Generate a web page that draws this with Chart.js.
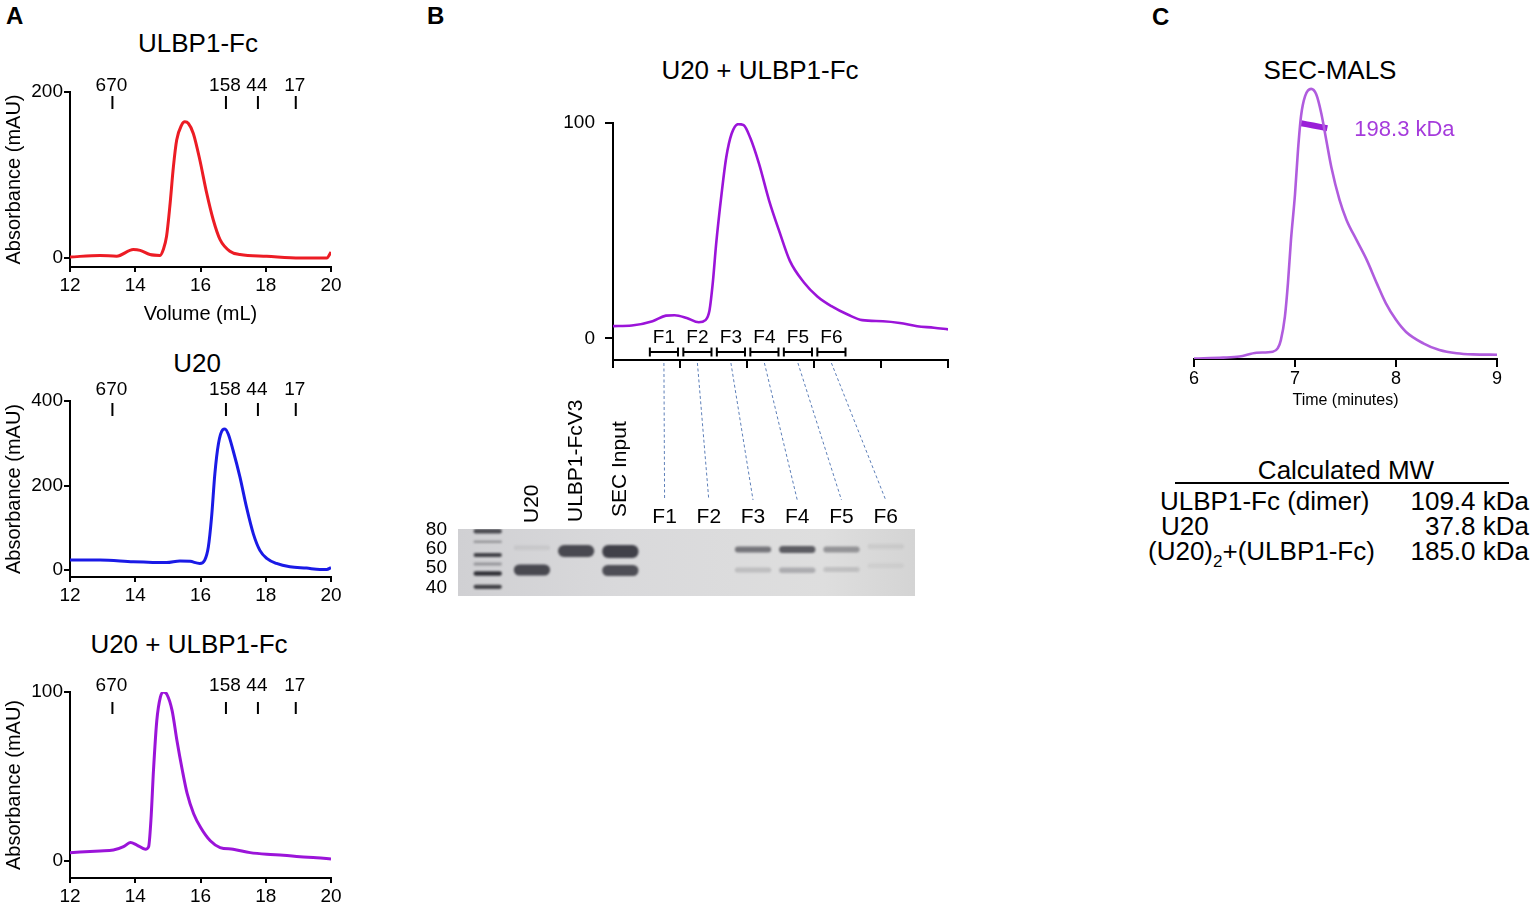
<!DOCTYPE html>
<html>
<head>
<meta charset="utf-8">
<title>U20 / ULBP1-Fc size exclusion</title>
<script src="https://cdn.jsdelivr.net/npm/chart.js@4.4.1/dist/chart.umd.min.js"></script>
<style>
  html, body { margin: 0; padding: 0; background: #fff; }
  body { width: 1535px; height: 905px; position: relative; overflow: hidden;
         font-family: "Liberation Sans", Arial, sans-serif; color: #000; }
  canvas { position: absolute; display: block; }
  .panel { position: absolute; font-weight: bold; font-size: 24px; line-height: 24px; }
  .title { position: absolute; width: 400px; text-align: center; font-size: 26px; line-height: 26px; white-space: nowrap; }
  .cell { position: absolute; font-size: 26px; line-height: 26px; white-space: nowrap; }
  .num { text-align: right; width: 160px; }
</style>
</head>
<body>

<div class="panel" style="left:6px; top:4px;">A</div>
<div class="panel" style="left:427px; top:4px;">B</div>
<div class="panel" style="left:1152px; top:5px;">C</div>

<div class="title" style="left:-2px; top:30px;">ULBP1-Fc</div>
<div class="title" style="left:-3px; top:350px;">U20</div>
<div class="title" style="left:-11px; top:631px;">U20 + ULBP1-Fc</div>
<div class="title" style="left:560px; top:57px;">U20 + ULBP1-Fc</div>
<div class="title" style="left:1130px; top:57px;">SEC-MALS</div>

<canvas id="chartUlbp" width="345" height="270" style="left:0; top:60px;"></canvas>
<canvas id="chartU20" width="345" height="237" style="left:0; top:370px;"></canvas>
<canvas id="chartComplex" width="345" height="245" style="left:0; top:660px;"></canvas>
<canvas id="chartFractions" width="420" height="282" style="left:540px; top:100px;"></canvas>
<canvas id="chartGel" width="530" height="271" style="left:400px; top:355px;"></canvas>
<canvas id="chartMals" width="333" height="344" style="left:1180px; top:70px;"></canvas>

<!-- Calculated MW table -->
<div class="cell" style="left:1146px; top:457px; width:400px; text-align:center;">Calculated MW</div>
<div style="position:absolute; left:1175px; top:482px; width:334px; height:2px; background:#000;"></div>
<div class="cell" style="left:1160px; top:488px;">ULBP1-Fc (dimer)</div>
<div class="cell num" style="left:1369px; top:488px;">109.4 kDa</div>
<div class="cell" style="left:1161px; top:513px;">U20</div>
<div class="cell num" style="left:1369px; top:513px;">37.8 kDa</div>
<div class="cell" style="left:1148px; top:538px;">(U20)<span style="font-size:17px; position:relative; top:7px;">2</span>+(ULBP1-Fc)</div>
<div class="cell num" style="left:1369px; top:538px;">185.0 kDa</div>

<script>
// ---------- data ----------
// A: ULBP1-Fc alone
const ulbpVolume = [12.0, 12.92, 13.43, 13.94, 14.15, 14.45, 14.76, 14.86, 14.96, 15.06, 15.17, 15.27, 15.42, 15.52, 15.63, 15.78, 15.98, 16.19, 16.39, 16.6, 16.9, 17.21, 18.03, 19.05, 19.87, 20.0];
const ulbpAbs = [1, 3, 2, 10, 9, 4, 3, 10, 26, 62, 110, 142, 160, 164, 162, 150, 118, 78, 46, 22, 8, 4, 2, 0, 0, 7];

// A: U20 alone
const u20Volume = [12.0, 12.92, 13.94, 14.96, 15.37, 15.68, 15.98, 16.13, 16.24, 16.34, 16.44, 16.55, 16.68, 16.75, 16.85, 17.0, 17.21, 17.41, 17.62, 17.82, 18.03, 18.33, 18.74, 19.25, 19.66, 19.87, 20.0];
const u20Abs = [24, 24, 20, 18, 22, 21, 16, 24, 55, 126, 228, 299, 332, 334, 322, 283, 220, 149, 86, 47, 28, 16, 8, 5, 2, 2, 6];

// A: U20 + ULBP1-Fc
const complexVolume = [12.0, 12.92, 13.33, 13.64, 13.85, 14.05, 14.31, 14.41, 14.48, 14.56, 14.66, 14.77, 14.87, 14.97, 15.13, 15.28, 15.44, 15.59, 15.79, 16.0, 16.3, 16.6, 17.0, 17.52, 18.03, 18.54, 19.05, 19.56, 20.0];
const complexAbs = [5, 6, 6.5, 8.5, 11, 9.5, 7, 8.5, 24, 54, 83, 97, 100, 98.6, 89, 71, 54, 40, 28, 20, 12, 8, 7, 5, 4, 3.5, 2.6, 2, 1.2];

// gel filtration standards (kDa) and where they elute
const standardVolume = [13.3, 16.78, 17.76, 18.92];
const standardLabels = ['670', '158', '44', '17'];

// B: preparative run with fractions
const fracVolume = [13.0, 13.28, 13.59, 13.79, 13.92, 14.1, 14.28, 14.38, 14.44, 14.49, 14.54, 14.62, 14.69, 14.77, 14.87, 14.95, 15.05, 15.18, 15.33, 15.49, 15.64, 15.85, 16.05, 16.26, 16.51, 16.72, 17.03, 17.28, 17.54, 17.79, 18.0];
const fracAbs = [5.7, 6, 8, 10.6, 10.8, 9.5, 7.5, 8.5, 13, 26, 44, 67, 84, 95, 99.5, 99, 93, 81, 64, 49, 36, 26, 19.5, 15, 11, 8.5, 8, 7.2, 5.7, 5, 4.2];
const fractionLabels = ['F1', 'F2', 'F3', 'F4', 'F5', 'F6'];
const fractionStart = [13.55, 14.05, 14.55, 15.05, 15.55, 16.05];
const fractionEnd = [13.97, 14.47, 14.97, 15.47, 15.97, 16.47];

// B: SDS-PAGE gel (migration from top of gel, arbitrary units)
const gelLanes = ['Ladder', 'U20', 'ULBP1-FcV3', 'SEC Input', 'F1', 'F2', 'F3', 'F4', 'F5', 'F6'];
const ladderKda = ['80', '60', '50', '40'];
const ladderKdaMigration = [1, 20, 39, 59];
const ladderBandTop = [0, 11.5, 24, 33.5, 42.3, 55.7];
const ladderBandBottom = [4.5, 14, 28, 36.5, 46.8, 60];
const ladderBandIntensity = [0.8, 0.35, 0.85, 0.35, 0.95, 0.85];
const bandLane = ['U20', 'U20', 'ULBP1-FcV3', 'SEC Input', 'SEC Input', 'F3', 'F3', 'F4', 'F4', 'F5', 'F5', 'F6', 'F6'];
const bandTop = [16.5, 35.5, 16, 16, 36, 17.5, 38.5, 17, 38.5, 17.5, 38, 15, 34.5];
const bandBottom = [21, 46.5, 28, 29, 47, 23.5, 43.5, 24, 44, 23.5, 43, 20, 39];
const bandIntensity = [0.08, 0.85, 0.85, 0.9, 0.82, 0.6, 0.18, 0.75, 0.28, 0.42, 0.16, 0.08, 0.06];

// C: SEC-MALS
const malsTime = [6.0, 6.29, 6.45, 6.62, 6.78, 6.83, 6.86, 6.9, 6.93, 6.96, 7.0, 7.03, 7.06, 7.1, 7.16, 7.21, 7.26, 7.31, 7.36, 7.44, 7.51, 7.61, 7.71, 7.81, 7.9, 8.0, 8.1, 8.27, 8.43, 8.6, 8.76, 9.0];
const malsSignal = [0.2, 0.5, 0.9, 2.3, 2.7, 4, 7, 15.7, 28, 44, 61, 77.5, 90, 97.3, 100, 98, 91, 81, 71, 59, 51.5, 44, 36.7, 28, 20.6, 14.5, 10, 5.8, 3.3, 2.1, 1.7, 1.6];
const mwTime = [7.06, 7.12, 7.18, 7.25, 7.32];
const mwKda = [200.2, 199.3, 198.3, 197.2, 196.0];
const mwLabel = '198.3 kDa';

// ---------- shared styling ----------
const FONT = '"Liberation Sans", Arial, sans-serif';
Chart.defaults.font.family = FONT;
Chart.defaults.color = '#000';

const axisBorder = { display: true, color: '#000', width: 2 };
function tickGrid(len) {
    return { display: true, drawOnChartArea: false, drawTicks: true, tickLength: len, color: '#000', lineWidth: 2 };
}
function toPoints(xs, ys) {
    return xs.map((v, i) => ({ x: v, y: ys[i] }));
}

// marker ticks + labels for the standards above each trace
const standardsPlugin = {
    id: 'standards',
    afterDraw(chart, args, opts) {
        const { ctx, chartArea, scales: { x } } = chart;
        ctx.save();
        ctx.font = '19px ' + FONT;
        ctx.textAlign = 'center';
        ctx.textBaseline = 'middle';
        ctx.fillStyle = '#000';
        ctx.strokeStyle = '#000';
        ctx.lineWidth = 2;
        standardVolume.forEach((v, i) => {
            const px = x.getPixelForValue(v);
            ctx.fillText(standardLabels[i], px - 1, chartArea.top + opts.labelY);
            ctx.beginPath();
            ctx.moveTo(px, chartArea.top + opts.tickFrom);
            ctx.lineTo(px, chartArea.top + opts.tickTo);
            ctx.stroke();
        });
        ctx.restore();
    }
};

function secChart(id, volume, absorbance, color, yRange, yTicks, standards, xTitle, xHeight, padTop) {
    return new Chart(document.getElementById(id), {
        type: 'line',
        data: {
            datasets: [{
                data: toPoints(volume, absorbance),
                borderColor: color,
                borderWidth: 3,
                pointRadius: 0,
                cubicInterpolationMode: 'monotone',
                fill: false
            }]
        },
        options: {
            responsive: false,
            animation: false,
            layout: { padding: { top: padTop, right: 14, left: 0, bottom: 0 } },
            plugins: { legend: { display: false }, tooltip: { enabled: false }, standards: standards },
            scales: {
                x: {
                    type: 'linear', min: 12, max: 20,
                    ticks: { stepSize: 2, font: { size: 19 }, padding: 2, maxRotation: 0, autoSkip: false },
                    grid: tickGrid(5),
                    border: axisBorder,
                    title: xTitle ? { display: true, text: xTitle, font: { size: 20 }, padding: { top: 0, bottom: 4 } } : { display: false },
                    afterFit: s => { s.height = xHeight; }
                },
                y: {
                    min: yRange[0], max: yRange[1],
                    afterBuildTicks: s => { s.ticks = yTicks.map(v => ({ value: v })); },
                    ticks: { font: { size: 19 }, padding: 1, autoSkip: false },
                    grid: tickGrid(6),
                    border: axisBorder,
                    title: { display: true, text: 'Absorbance (mAU)', font: { size: 20 }, padding: { top: 2, bottom: 0 } },
                    afterFit: s => { s.width = 70; }
                }
            }
        },
        plugins: [standardsPlugin]
    });
}

// ---------- panel A ----------
secChart('chartUlbp', ulbpVolume, ulbpAbs, 'rgb(236,28,36)', [-11, 200], [0, 200],
    { labelY: -6, tickFrom: 4, tickTo: 17 }, 'Volume (mL)', 63, 32);
secChart('chartU20', u20Volume, u20Abs, 'rgb(26,26,230)', [-16, 400], [0, 200, 400],
    { labelY: -11, tickFrom: 2, tickTo: 15 }, null, 30, 31);
secChart('chartComplex', complexVolume, complexAbs, 'rgb(155,20,217)', [-10, 100], [0, 100],
    { labelY: -6, tickFrom: 10, tickTo: 22 }, null, 27, 32);

// ---------- panel B: trace with fraction brackets ----------
const fractionPlugin = {
    id: 'fractions',
    afterDatasetsDraw(chart) {
        const { ctx, chartArea, scales: { x } } = chart;
        const yb = chartArea.bottom - 8;
        ctx.save();
        ctx.strokeStyle = '#000';
        ctx.fillStyle = '#000';
        ctx.lineWidth = 2;
        ctx.font = '19px ' + FONT;
        ctx.textAlign = 'center';
        ctx.textBaseline = 'middle';
        fractionLabels.forEach((lab, i) => {
            const x0 = x.getPixelForValue(fractionStart[i]);
            const x1 = x.getPixelForValue(fractionEnd[i]);
            ctx.beginPath();
            ctx.moveTo(x0, yb); ctx.lineTo(x1, yb);
            ctx.moveTo(x0, yb - 4.5); ctx.lineTo(x0, yb + 4.5);
            ctx.moveTo(x1, yb - 4.5); ctx.lineTo(x1, yb + 4.5);
            ctx.stroke();
            ctx.fillText(lab, (x0 + x1) / 2, chartArea.bottom - 22);
        });
        ctx.restore();
    }
};

const fractionChart = new Chart(document.getElementById('chartFractions'), {
    type: 'line',
    data: {
        datasets: [{
            data: toPoints(fracVolume, fracAbs),
            borderColor: 'rgb(155,20,217)',
            borderWidth: 2.6,
            pointRadius: 0,
            cubicInterpolationMode: 'monotone',
            fill: false
        }]
    },
    options: {
        responsive: false,
        animation: false,
        layout: { padding: { top: 23, right: 12, left: 0, bottom: 10 } },
        plugins: { legend: { display: false }, tooltip: { enabled: false } },
        scales: {
            x: {
                type: 'linear', min: 13, max: 18,
                ticks: { stepSize: 1, callback: () => '', padding: 0 },
                grid: tickGrid(8),
                border: axisBorder,
                afterFit: s => { s.height = 12; }
            },
            y: {
                min: -10, max: 100,
                afterBuildTicks: s => { s.ticks = [{ value: 0 }, { value: 100 }]; },
                ticks: { font: { size: 19 }, padding: 10 },
                grid: tickGrid(8),
                border: axisBorder,
                afterFit: s => { s.width = 73; }
            }
        }
    },
    plugins: [fractionPlugin]
});

// ---------- panel B: gel ----------
const gelPlugin = {
    id: 'gel',
    beforeDatasetsDraw(chart) {
        const { ctx, chartArea } = chart;
        const left = chartArea.left - 7.6, right = chartArea.right + 7.2;
        const g = ctx.createLinearGradient(left, 0, right, 0);
        g.addColorStop(0, '#d0d0d3');
        g.addColorStop(0.35, '#d9d9db');
        g.addColorStop(0.8, '#dedede');
        g.addColorStop(1, '#d4d4d4');
        ctx.save();
        ctx.fillStyle = g;
        ctx.fillRect(left, chartArea.top, right - left, chartArea.bottom - chartArea.top);
        ctx.restore();
        ctx.save();
        ctx.filter = 'blur(1.2px)';
    },
    afterDatasetsDraw(chart) {
        const { ctx, chartArea, scales: { x } } = chart;
        ctx.restore();

        // lane labels
        ctx.save();
        ctx.fillStyle = '#000';
        ctx.font = '21px ' + FONT;
        ctx.textBaseline = 'middle';
        const rotatedLift = { 'U20': 6, 'ULBP1-FcV3': 7, 'SEC Input': 12 };
        gelLanes.forEach((lane, i) => {
            if (i === 0) return;
            const px = x.getPixelForValue(i);
            if (lane in rotatedLift) {
                ctx.save();
                ctx.translate(px, chartArea.top - rotatedLift[lane]);
                ctx.rotate(-Math.PI / 2);
                ctx.textAlign = 'left';
                ctx.fillText(lane, 0, 0);
                ctx.restore();
            } else {
                ctx.textAlign = 'center';
                ctx.fillText(lane, px, chartArea.top - 12);
            }
        });
        ctx.restore();

        // dashed guides from the fraction brackets down to the gel lanes
        const gelRect = chart.canvas.getBoundingClientRect();
        const bRect = fractionChart.canvas.getBoundingClientRect();
        const bx = fractionChart.scales.x;
        const by = fractionChart.chartArea.bottom + 3 + bRect.top - gelRect.top;
        ctx.save();
        ctx.strokeStyle = '#5d7fb8';
        ctx.lineWidth = 1;
        ctx.setLineDash([3, 2.5]);
        fractionLabels.forEach((lab, i) => {
            const sx = bx.getPixelForValue((fractionStart[i] + fractionEnd[i]) / 2) + bRect.left - gelRect.left;
            const ex = x.getPixelForValue(gelLanes.indexOf(lab));
            ctx.beginPath();
            ctx.moveTo(sx, by);
            ctx.lineTo(ex, chartArea.top - 29);
            ctx.stroke();
        });
        ctx.restore();
    }
};

new Chart(document.getElementById('chartGel'), {
    type: 'bar',
    data: {
        labels: gelLanes,
        datasets: [
            {
                data: ladderBandTop.map((t, i) => ({ x: 'Ladder', y: [t, ladderBandBottom[i]] })),
                backgroundColor: ladderBandIntensity.map(a => `rgba(40,40,46,${a})`),
                barPercentage: 0.64, categoryPercentage: 1,
                borderRadius: 3, borderSkipped: false, grouped: false
            },
            {
                data: bandLane.map((lane, i) => ({ x: lane, y: [bandTop[i], bandBottom[i]] })),
                backgroundColor: bandIntensity.map(a => `rgba(48,48,56,${a})`),
                barPercentage: 0.82, categoryPercentage: 1,
                borderRadius: 6, borderSkipped: false, grouped: false
            }
        ]
    },
    options: {
        responsive: false,
        animation: false,
        layout: { padding: { top: 174, right: 22.2, left: 0, bottom: 30 } },
        plugins: { legend: { display: false }, tooltip: { enabled: false } },
        scales: {
            x: { type: 'category', display: false },
            y: {
                reverse: true, min: 0, max: 67,
                afterBuildTicks: s => { s.ticks = ladderKdaMigration.map(v => ({ value: v })); },
                ticks: {
                    font: { size: 19 }, padding: 18.6, autoSkip: false,
                    callback: v => ladderKda[ladderKdaMigration.indexOf(v)]
                },
                grid: { display: false, drawTicks: false },
                border: { display: false },
                afterFit: s => { s.width = 65.6; }
            }
        }
    },
    plugins: [gelPlugin]
});

// ---------- panel C: SEC-MALS ----------
const mwLabelPlugin = {
    id: 'mwLabel',
    afterDatasetsDraw(chart) {
        const { ctx, scales: { x, y2 } } = chart;
        ctx.save();
        ctx.font = '22px ' + FONT;
        ctx.fillStyle = '#a53bdc';
        ctx.textAlign = 'left';
        ctx.textBaseline = 'middle';
        ctx.fillText(mwLabel, x.getPixelForValue(mwTime[mwTime.length - 1]) + 27, y2.getPixelForValue(198.3) + 4.5);
        ctx.restore();
    }
};

new Chart(document.getElementById('chartMals'), {
    type: 'line',
    data: {
        datasets: [
            {
                data: toPoints(malsTime, malsSignal),
                borderColor: '#b05cde',
                borderWidth: 2.6,
                pointRadius: 0,
                cubicInterpolationMode: 'monotone',
                fill: false,
                yAxisID: 'y'
            },
            {
                data: toPoints(mwTime, mwKda),
                borderColor: '#9a1fd8',
                borderWidth: 6,
                pointRadius: 0,
                fill: false,
                yAxisID: 'y2'
            }
        ]
    },
    options: {
        responsive: false,
        animation: false,
        layout: { padding: { top: 10, right: 16, left: 14, bottom: 0 } },
        plugins: { legend: { display: false }, tooltip: { enabled: false } },
        scales: {
            x: {
                type: 'linear', min: 6, max: 9,
                ticks: { stepSize: 1, font: { size: 18 }, padding: 1, maxRotation: 0 },
                grid: tickGrid(8),
                border: axisBorder,
                title: { display: true, text: 'Time (minutes)', font: { size: 16 }, padding: { top: 0, bottom: 4 } },
                afterFit: s => { s.height = 55; }
            },
            y: { display: false, min: 0, max: 103.3 },
            y2: { display: false, min: 0, max: 237, position: 'right' }
        }
    },
    plugins: [mwLabelPlugin]
});
</script>
</body>
</html>
